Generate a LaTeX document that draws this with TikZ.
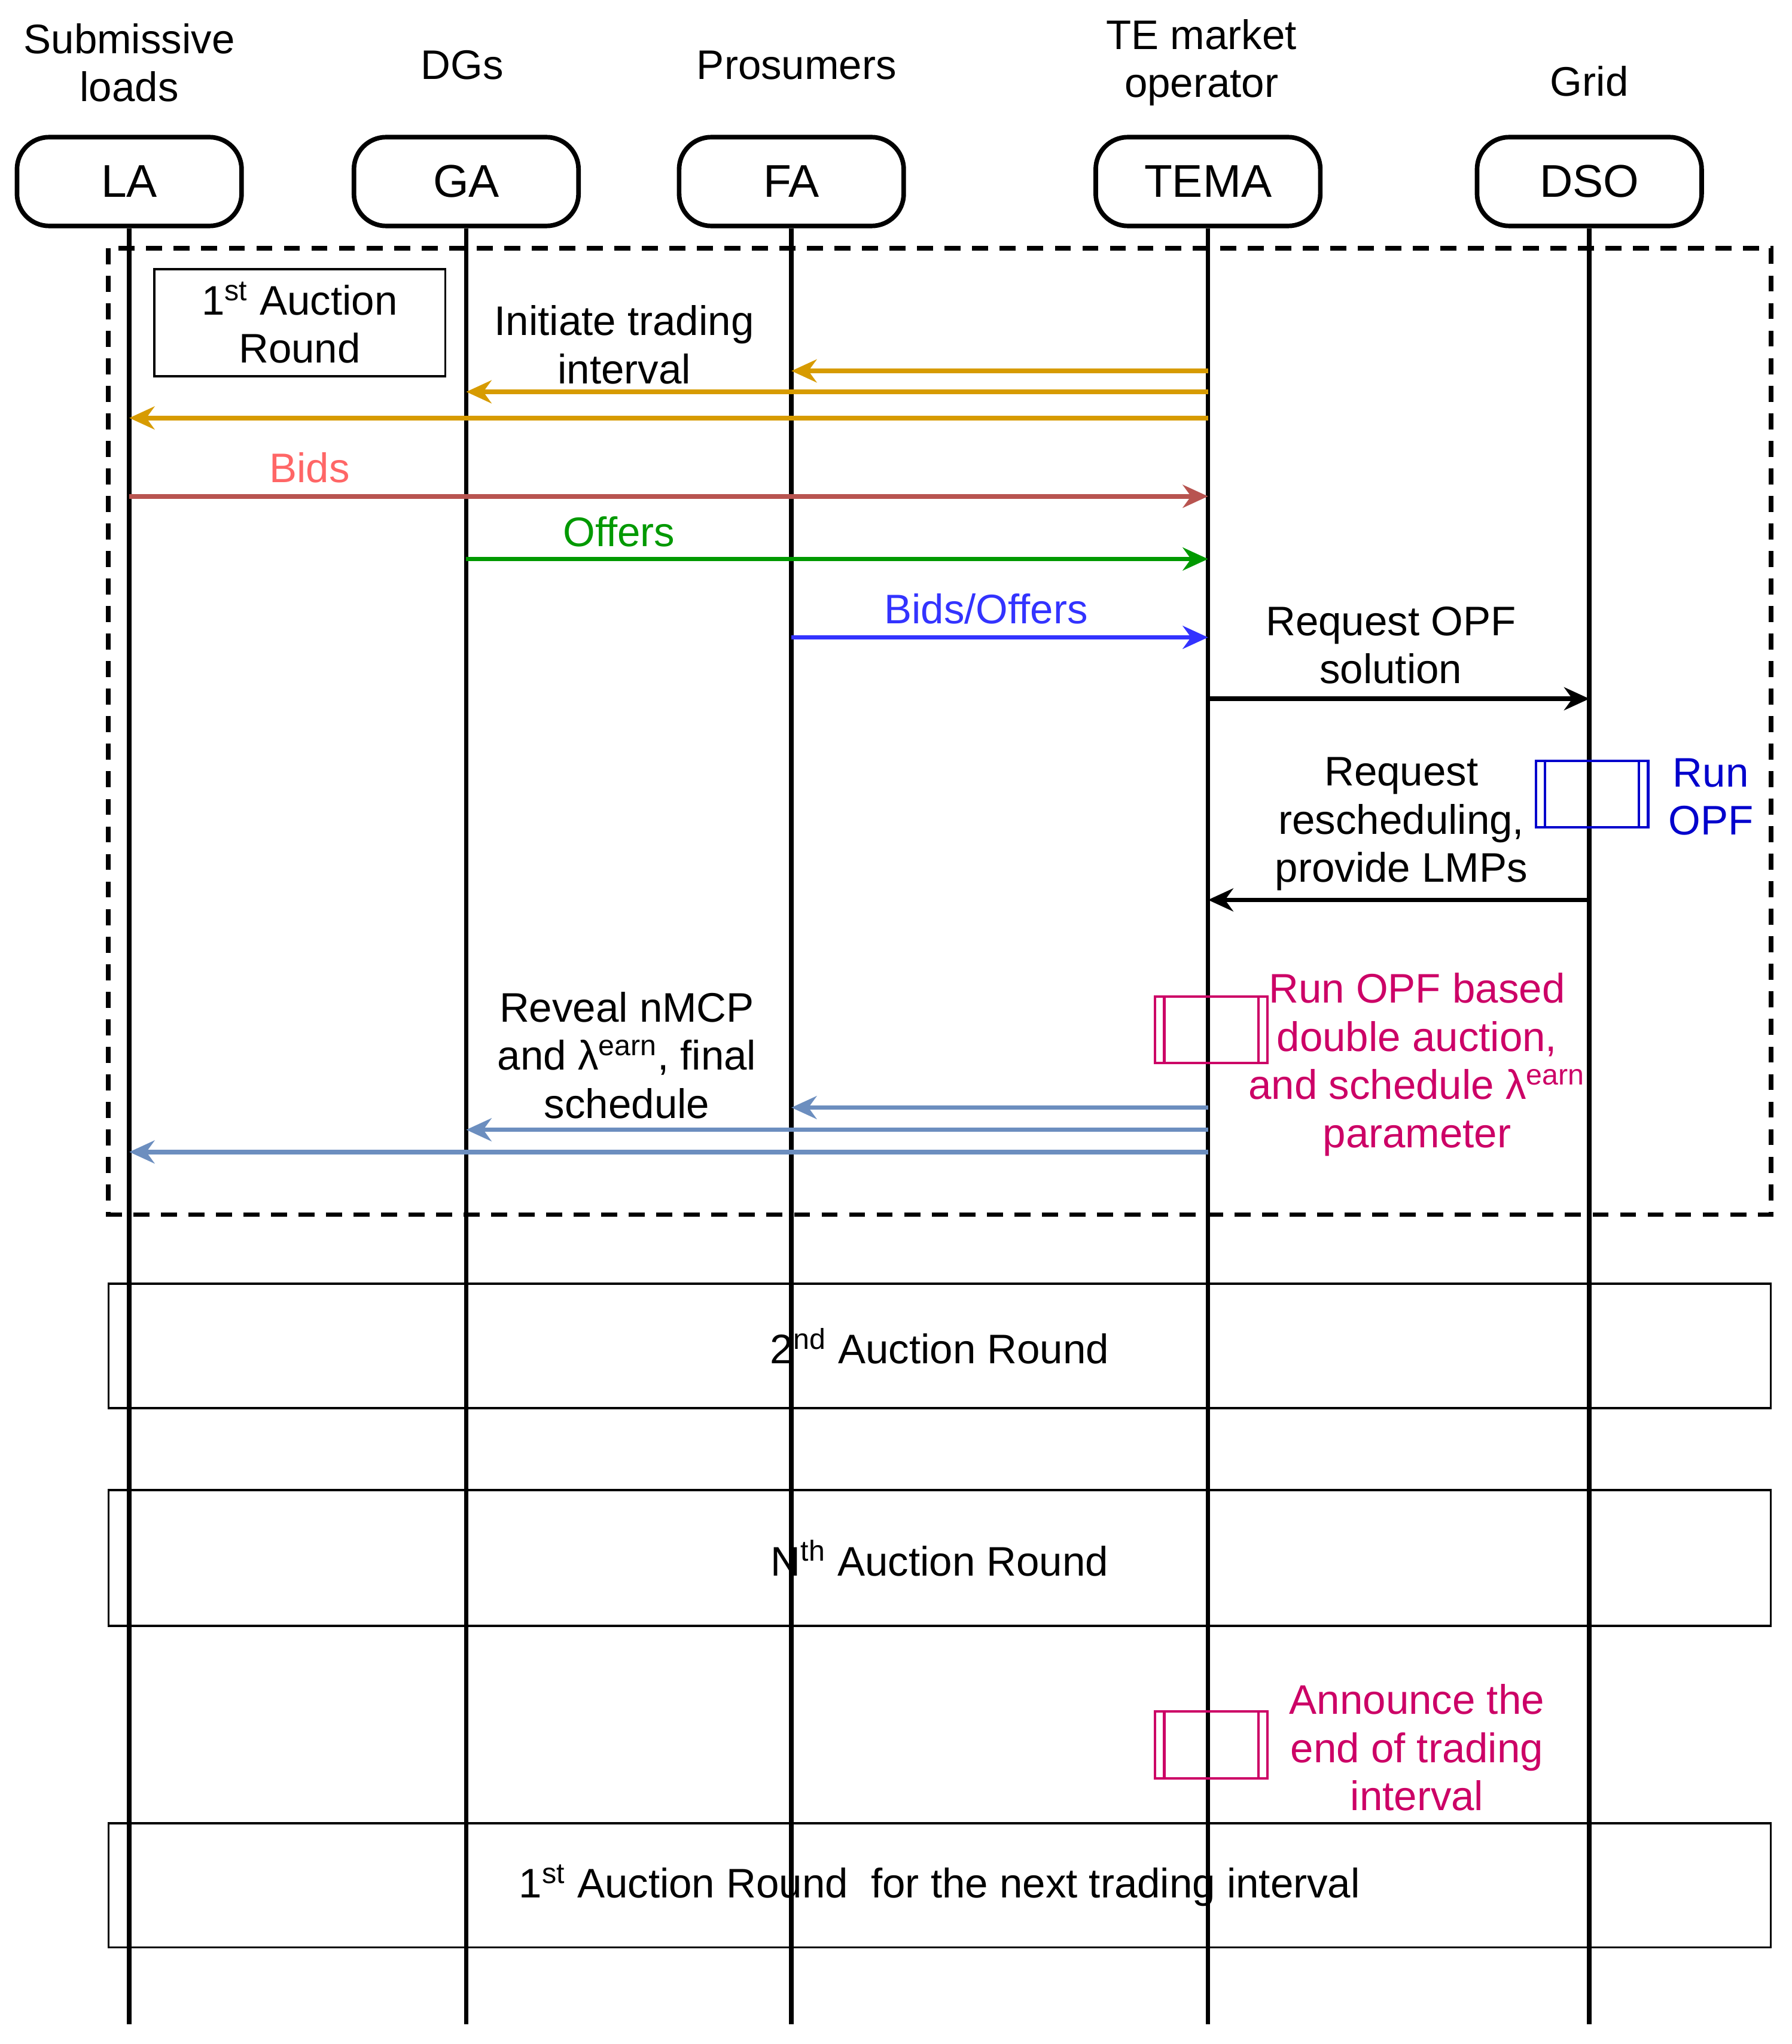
\documentclass[tikz,border=0pt]{standalone}
\usepackage{fontspec}
\setmainfont{Liberation Sans}
\usetikzlibrary{arrows.meta}
\definecolor{orng}{HTML}{D79B00}
\definecolor{bidred}{HTML}{B85450}
\definecolor{bidtxt}{HTML}{FF6666}
\definecolor{offgreen}{HTML}{009900}
\definecolor{fablue}{HTML}{3333FF}
\definecolor{opfblue}{HTML}{0000CC}
\definecolor{pink}{HTML}{CC0066}
\definecolor{revblue}{HTML}{6C8EBF}
\tikzset{
  actor/.style={draw,line width=2pt,rounded corners=14pt,minimum width=3.44cm,minimum height=1.36cm,font=\fontsize{20}{24}\selectfont},
  txt/.style={align=center,font=\fontsize{18}{21}\selectfont},
  life/.style={line width=2pt},
  msg/.style={line width=2pt,-{Stealth[length=11pt,width=10pt]}},
  round/.style={draw,line width=1pt,minimum width=25.46cm,minimum height=1.9cm,font=\fontsize{18}{21}\selectfont}
}
\newcommand{\procbox}[3]{% name, centre, colour
  \node[draw=#3,line width=1.1pt,minimum width=1.72cm,minimum height=1.02cm] (#1) at #2 {};
  \draw[#3,line width=1.1pt] ([xshift=0.16cm]#1.north west) -- ([xshift=0.16cm]#1.south west);
  \draw[#3,line width=1.1pt] ([xshift=-0.16cm]#1.north east) -- ([xshift=-0.16cm]#1.south east);
}
\begin{document}
\begin{tikzpicture}[x=0.02cm,y=-0.02cm]
  \useasboundingbox (0,0) rectangle (1372,1565);
  % lifelines
  \foreach \n/\x in {LA/99,GA/357,FA/606,TEMA/925,DSO/1217}{
    \coordinate (\n-end) at (\x,1550);
  }
  \node[actor] (LA) at (99,139) {LA};
  \node[actor] (GA) at (357,139) {GA};
  \node[actor] (FA) at (606,139) {FA};
  \node[actor] (TEMA) at (925,139) {TEMA};
  \node[actor] (DSO) at (1217,139) {DSO};
  \foreach \n in {LA,GA,FA,TEMA,DSO}{
    \draw[life] (\n) -- (\n-end);
  }
  \node[txt] (lbl-LA) at (99,48) {Submissive\\loads};
  \node[txt] (lbl-GA) at (354,50) {DGs};
  \node[txt] (lbl-FA) at (610,50) {Prosumers};
  \node[txt] (lbl-TEMA) at (920,48) {TE market\\operator};
  \node[txt] (lbl-DSO) at (1217,62) {Grid};
  % first round
  \draw[dash pattern=on 7pt off 5pt,line width=2pt] (83,190) rectangle (1356,930);
  \node[draw,line width=1pt,minimum width=4.46cm,minimum height=1.64cm,txt] (r1) at (229.5,247) {1\textsuperscript{st} Auction\\Round};
  \node[txt] (init) at (478,264) {Initiate trading\\interval};
  \foreach \n/\y in {FA/284,GA/300,LA/320}{
    \coordinate (s) at (925,\y); \coordinate (t) at (\n |- s);
    \draw[msg,orng] (s) -- (t);
  }
  \coordinate (b1) at (99,380); \coordinate (b2) at (925,380);
  \draw[msg,bidred] (b1) -- (b2);
  \node[txt,text=bidtxt] (bids) at (237,358) {Bids};
  \coordinate (o1) at (357,428); \coordinate (o2) at (925,428);
  \draw[msg,offgreen] (o1) -- (o2);
  \node[txt,text=offgreen] (offers) at (474,407) {Offers};
  \coordinate (f1) at (606,488); \coordinate (f2) at (925,488);
  \draw[msg,fablue] (f1) -- (f2);
  \node[txt,text=fablue] (bo) at (755,466) {Bids/Offers};
  \coordinate (q1) at (925,535); \coordinate (q2) at (1217,535);
  \draw[msg,black] (q1) -- (q2);
  \node[txt] (req) at (1065,494) {Request OPF\\solution};
  \procbox{opf}{(1219,608)}{opfblue}
  \node[txt,text=opfblue] (opftxt) at (1310,610) {Run\\OPF};
  \coordinate (p1) at (1217,689); \coordinate (p2) at (925,689);
  \draw[msg,black] (p1) -- (p2);
  \node[txt] (resch) at (1073,631) {Request\\rescheduling,\\provide LMPs};
  \procbox{auc}{(927.5,788.5)}{pink}
  \node[txt,text=pink] (auctxt) at (1085,815) {Run OPF based\\double auction,\\and schedule λ\textsuperscript{earn}\\parameter};
  \node[txt] (rev) at (480,808) {Reveal nMCP\\and λ\textsuperscript{earn}, final\\schedule};
  \foreach \n/\y in {FA/848,GA/865,LA/882}{
    \coordinate (s) at (925,\y); \coordinate (t) at (\n |- s);
    \draw[msg,revblue] (s) -- (t);
  }
  % later rounds
  \node[round] (r2) at (719.5,1030.5) {2\textsuperscript{nd} Auction Round};
  \node[round,minimum height=2.08cm] (rN) at (719.5,1193) {N\textsuperscript{th} Auction Round};
  \procbox{end}{(927.5,1336)}{pink}
  \node[txt,text=pink] (endtxt) at (1085,1338) {Announce the\\end of trading\\interval};
  \node[round] (rnext) at (719.5,1443.5) {1\textsuperscript{st} Auction Round\ \ for the next trading interval};
\end{tikzpicture}
\end{document}
